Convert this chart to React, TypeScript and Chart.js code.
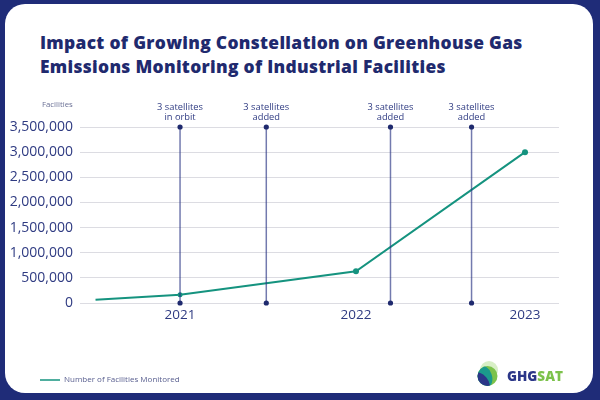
import React, { useEffect, useRef } from "react";
import { Chart, registerables } from "chart.js";

Chart.register(...registerables);

const seriesLabel = "Number of Facilities Monitored";
const yearsX = [2020.51, 2021.0, 2022.02, 2023.0];
const facilities = [65000, 165000, 630000, 3000000];
const pointSizes = [0, 2.5, 3, 3];
const yearTicks = [2021, 2022.02, 2023];
const eventX = [2021.0, 2021.5, 2022.22, 2022.69];
const eventLine1 = ["3 satellites", "3 satellites", "3 satellites", "3 satellites"];
const eventLine2 = ["in orbit", "added", "added", "added"];

const NAVY = "#1f2c78";
const TEXT = "#2f3b82";
const TEAL = "#15937f";
const FONT = "'Open Sans', sans-serif";

const annotationPlugin = {
  id: "events",
  afterDatasetsDraw(chart: any) {
    const { ctx, chartArea, scales } = chart;
    const x = scales.x;
    ctx.save();
    eventX.forEach((v, i) => {
      const px = x.getPixelForValue(v);
      const top = chartArea.top;
      const bottom = chartArea.bottom;
      ctx.strokeStyle = "rgba(40,50,130,0.65)";
      ctx.lineWidth = 1.5;
      ctx.beginPath();
      ctx.moveTo(px, top);
      ctx.lineTo(px, bottom);
      ctx.stroke();
      ctx.fillStyle = "#1f2a6e";
      ctx.beginPath();
      ctx.arc(px, top, 2.6, 0, Math.PI * 2);
      ctx.fill();
      ctx.beginPath();
      ctx.arc(px, bottom, 2.6, 0, Math.PI * 2);
      ctx.fill();
      ctx.fillStyle = TEXT;
      ctx.font = `9.3px ${FONT}`;
      ctx.textAlign = "center";
      ctx.textBaseline = "middle";
      ctx.fillText(eventLine1[i], px, top - 20);
      ctx.fillText(eventLine2[i], px, top - 10);
    });
    ctx.restore();
  },
};

const extrasPlugin = {
  id: "extras",
  afterDraw(chart: any) {
    const { ctx } = chart;
    ctx.save();
    ctx.fillStyle = "#6a7095";
    ctx.font = `7.8px ${FONT}`;
    ctx.textAlign = "left";
    ctx.textBaseline = "middle";
    ctx.fillText("Facilities", 42, 105);
    const ds = chart.data.datasets[0];
    ctx.strokeStyle = ds.borderColor;
    ctx.lineWidth = 1.5;
    ctx.beginPath();
    ctx.moveTo(40, 380);
    ctx.lineTo(60, 380);
    ctx.stroke();
    ctx.fillStyle = "#5a6090";
    ctx.font = `8px ${FONT}`;
    ctx.fillText(ds.label, 64, 380);
    ctx.restore();
  },
};

export default function App() {
  const ref = useRef<HTMLCanvasElement>(null);
  useEffect(() => {
    if (!ref.current) return;
    const chart = new Chart(ref.current, {
      type: "line",
      data: {
        datasets: [
          {
            label: seriesLabel,
            data: yearsX.map((x, i) => ({ x, y: facilities[i] })),
            borderColor: TEAL,
            backgroundColor: TEAL,
            borderWidth: 2,
            pointRadius: pointSizes,
            pointBorderWidth: 0,
            tension: 0,
          },
        ],
      },
      options: {
        animation: false,
        responsive: false,
        devicePixelRatio: 1,
        layout: { padding: { left: 0, right: 41, top: 127, bottom: 67 } },
        plugins: { legend: { display: false }, tooltip: { enabled: false } },
        scales: {
          x: {
            type: "linear",
            min: 2020.42,
            max: 2023.197,
            afterBuildTicks(scale: any) {
              scale.ticks = yearTicks.map((v) => ({ value: v }));
            },
            afterFit(scale: any) {
              scale.height = 30;
            },
            ticks: {
              callback: (v: any) => String(Math.round(Number(v))),
              color: TEXT,
              font: { family: FONT, size: 13.5 },
              padding: 4,
              maxRotation: 0,
            },
            grid: { display: false, drawTicks: false },
            border: { display: false },
          },
          y: {
            min: 0,
            max: 3500000,
            afterFit(scale: any) {
              scale.width = 80;
            },
            ticks: {
              stepSize: 500000,
              color: TEXT,
              font: { family: FONT, size: 14 },
              padding: 7,
              callback: (v: any) => Number(v).toLocaleString("en-US"),
            },
            grid: { color: "#dcdce2", lineWidth: 1, drawTicks: false },
            border: { display: false },
          },
        },
      },
      plugins: [annotationPlugin, extrasPlugin],
    });
    return () => chart.destroy();
  }, []);

  return (
    <div style={{ position: "fixed", left: 0, top: 0, width: 600, height: 400, background: NAVY, overflow: "hidden" }}>
      <div
        style={{
          position: "absolute",
          left: 5,
          top: 4,
          width: 588,
          height: 389,
          background: "#ffffff",
          borderRadius: 20,
        }}
      />
      <div
        style={{
          position: "absolute",
          left: 40,
          top: 30,
          fontFamily: FONT,
          fontWeight: 800,
          fontSize: 17.4,
          letterSpacing: "0.3px",
          lineHeight: "24px",
          color: "#1f2a6e",
          whiteSpace: "nowrap",
        }}
      >
        Impact of Growing Constellation on Greenhouse Gas
        <br />
        Emissions Monitoring of Industrial Facilities
      </div>
      <canvas ref={ref} width={600} height={400} style={{ position: "absolute", left: 0, top: 0, width: 600, height: 400 }} />
      <svg width={100} height={40} style={{ position: "absolute", left: 470, top: 355 }}>
        <circle cx={19} cy={15} r={9} fill="#d8efc6" />
        <clipPath id="lg">
          <circle cx={17.5} cy={21} r={10} />
        </clipPath>
        <g clipPath="url(#lg)">
          <rect x={0} y={0} width={40} height={40} fill="#7cc24b" />
          <ellipse cx={13} cy={22} rx={9} ry={12} fill="#1b9a8c" transform="rotate(-20 13 22)" />
          <ellipse cx={11} cy={27} rx={7} ry={11} fill="#2b3688" transform="rotate(-40 11 27)" />
        </g>
        <text x={37} y={25.5} fontFamily="'Open Sans', sans-serif" fontWeight={800} fontSize={13.5} fill="#2b3688">
          GHG
          <tspan fill="#7cc24b">SAT</tspan>
        </text>
      </svg>
    </div>
  );
}
